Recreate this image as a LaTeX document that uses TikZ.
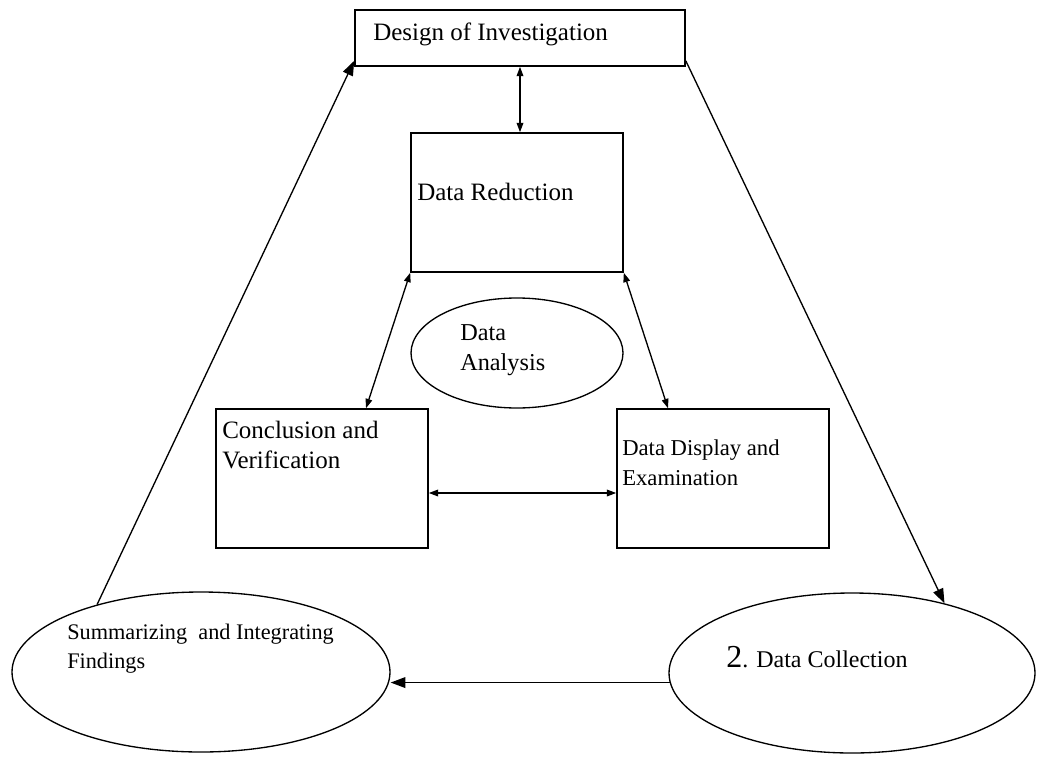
\documentclass[tikz,border=0pt]{standalone}
\usepackage{fontspec}
\setmainfont{Liberation Serif}
\usetikzlibrary{shapes.geometric,arrows.meta,calc}
\begin{document}
\begin{tikzpicture}[x=0.75pt,y=-0.75pt,
  box/.style={draw, line width=1.2pt, rectangle, inner sep=0pt},
  oval/.style={draw, line width=1pt, ellipse, inner sep=0pt},
  lbl/.style={inner sep=0pt, anchor=base west, align=left},
  link/.style={line width=1pt},
  big/.style={link,-{Triangle[length=11pt,width=8pt]}},
  dbl/.style={link,{Triangle[length=7pt,width=5pt]}-{Triangle[length=7pt,width=5pt]}}]
\useasboundingbox (0,0) rectangle (1037,756);
% shapes
\node[box, minimum width=330*0.75pt, minimum height=56*0.75pt] (design) at (520,38) {};
\node[box, minimum width=212*0.75pt, minimum height=139*0.75pt] (red) at (517,202.5) {};
\node[box, minimum width=212*0.75pt, minimum height=139*0.75pt] (conc) at (322,478.5) {};
\node[box, minimum width=212*0.75pt, minimum height=139*0.75pt] (disp) at (723,478.5) {};
\node[oval, minimum width=212*0.75pt, minimum height=110*0.75pt] (ana) at (517,353) {};
\node[oval, minimum width=378*0.75pt, minimum height=160*0.75pt] (summ) at (201,672) {};
\node[oval, minimum width=366*0.75pt, minimum height=160*0.75pt] (coll) at (852,673) {};
% texts (base anchor = baseline of the last line)
\node[lbl, font=\fontsize{18.75}{22.5}\selectfont] (designT) at (373,40.5) {Design of Investigation};
\node[lbl, font=\fontsize{18.75}{22.5}\selectfont] (redT) at (417,200) {Data Reduction};
\node[lbl, font=\fontsize{18.2}{22.2}\selectfont] (anaT) at (460,370.5) {Data\\Analysis};
\node[lbl, font=\fontsize{18.75}{22.5}\selectfont] (concT) at (222,468) {Conclusion and\\Verification};
\node[lbl, font=\fontsize{17}{22.5}\selectfont] (dispT) at (622,485) {Data Display and\\Examination};
\node[lbl, font=\fontsize{16.7}{21.75}\selectfont] (summT) at (67,668) {Summarizing\ \ and Integrating\\Findings};
\node[lbl, font=\fontsize{18}{22.5}\selectfont] (collT) at (726,667) {{\fontsize{24}{24}\selectfont 2}. Data Collection};
% connectors
\draw[dbl] (design.south) -- (design.south |- red.north);
\draw[dbl] (red.south west) -- ($(conc.north)+(44,0)$);
\draw[dbl] (red.south east) -- ($(disp.north)+(-55,0)$);
\draw[dbl] ($(conc.east)+(0,14.5)$) -- ($(disp.west)+(0,14.5)$);
\draw[big] (coll.183) -- (coll.183 -| summ.east);
\draw[big] (summ.147) -- ($(design.south west)+(0,-6)$);
\draw[big] ($(design.south east)+(0,-6)$) -- (coll.37.5);
\end{tikzpicture}
\end{document}
